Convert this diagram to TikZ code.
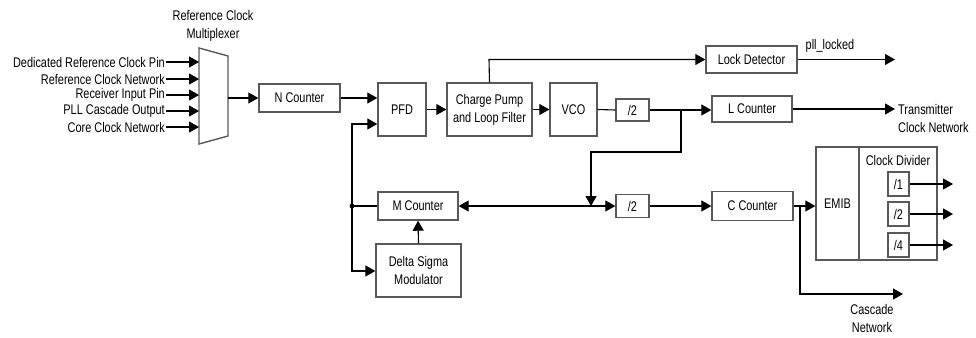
\documentclass[tikz,border=0pt]{standalone}
\usepackage{fontspec}
\setmainfont[FakeStretch=0.78]{Liberation Sans}
\usetikzlibrary{arrows.meta,calc}
\begin{document}
\begin{tikzpicture}[x=1pt,y=-1pt,
  font=\fontsize{14}{18}\selectfont,
  box/.style={draw=black!65, line width=1.4pt, fill=white, align=center, inner sep=0pt},
  conn/.style={line width=1.1pt},
  arr/.style={conn, -{Triangle[length=10pt,width=11pt]}},
  lbl/.style={inner sep=1pt, align=center},
]
\useasboundingbox (0,0) rectangle (976,337);

% multiplexer
\draw[draw=black!65, line width=1.4pt] (199,48) -- (228,56) -- (228,136) -- (199,144) -- cycle;
\node[lbl] (muxlbl) at (213,26) {Reference Clock\\Multiplexer};
\coordinate (mi1) at (199,62);
\coordinate (mi2) at (199,79);
\coordinate (mi3) at (199,95);
\coordinate (mi4) at (199,111);
\coordinate (mi5) at (199,127);
\coordinate (mo) at (228,98);
\node[lbl, anchor=east] (in1) at (166,62) {Dedicated Reference Clock Pin};
\node[lbl, anchor=east] (in2) at (166,79) {Reference Clock Network};
\node[lbl, anchor=east] (in3) at (166,95) {Receiver Input Pin};
\node[lbl, anchor=east] (in4) at (166,111) {PLL Cascade Output};
\node[lbl, anchor=east] (in5) at (166,127) {Core Clock Network};
\foreach \i in {1,...,5} \draw[arr] (in\i.east) -- (mi\i);

% boxes
\node[box, minimum width=81, minimum height=28] (nc) at (299.5,98) {N Counter};
\node[box, minimum width=48, minimum height=53] (pfd) at (402,109.5) {PFD};
\node[box, minimum width=85, minimum height=53] (cp) at (489.5,109.5) {Charge Pump\\and Loop Filter};
\node[box, minimum width=47, minimum height=53] (vco) at (573.5,109.5) {VCO};
\node[box, minimum width=33, minimum height=22] (dv1) at (632.5,110) {/2};
\node[box, minimum width=91, minimum height=27] (ld) at (751.5,59.5) {Lock Detector};
\node[box, minimum width=80, minimum height=26] (lc) at (752,109) {L Counter};
\node[box, minimum width=80, minimum height=28] (mc) at (418,206) {M Counter};
\node[box, minimum width=85, minimum height=53] (ds) at (418.5,270.5) {Delta Sigma\\Modulator};
\node[box, minimum width=33, minimum height=23] (dv2) at (632.5,206) {/2};
\node[box, minimum width=81, minimum height=29] (cc) at (752.5,206) {C Counter};
\node[box, minimum width=43, minimum height=113] (emib) at (837.5,203.5) {EMIB};
\node[box, minimum width=78, minimum height=113] (cd) at (898,203.5) {};
\node[lbl] (cdl) at (898,160) {Clock Divider};
\node[box, minimum width=21, minimum height=24] (d1) at (898.5,184) {/1};
\node[box, minimum width=21, minimum height=24] (d2) at (898.5,214) {/2};
\node[box, minimum width=21, minimum height=24] (d4) at (898.5,245) {/4};

% connections
\draw[arr] (mo) -- (nc.west);
\draw[arr] (nc.east) -- (pfd.west |- nc.east);
\draw[arr] (pfd.east) -- (cp.west);
\draw[arr] (cp.east) -- (vco.west);
\draw[conn] (vco.east) -- (dv1.west);
\coordinate (tap) at (681,110);
\draw[arr] (dv1.east) -- (tap) -- (lc.west |- tap);
\coordinate (mcl) at (591,206);
\draw[arr] (tap) -- (681,152) -- (591,152) -- (mcl);
\draw[conn, {Triangle[length=10pt,width=11pt]}-{Triangle[length=10pt,width=11pt]}] (mc.east) -- (dv2.west);
\draw[arr] (dv2.east) -- (cc.west);
\coordinate (cbr) at (800,206);
\draw[arr] (cc.east) -- (emib.west |- cc.east);
\coordinate (cas) at (903,294);
\draw[arr] (cbr) -- (800,294) -- (cas);
\node[lbl] (casl) at (872,318) {Cascade\\Network};

% lock detector
\coordinate (ldin) at (489,59.5);
\draw[arr] (cp.north) -- (ldin) -- (ld.west);
\coordinate (pllo) at (895,59.5);
\draw[arr] (ld.east) -- (pllo);
\node[lbl] (plll) at (830,46) {pll\_locked};

% L counter out
\coordinate (lco) at (895,109);
\draw[arr] (lc.east) -- (lco);
\node[lbl, anchor=west, align=left] (txl) at (897,118.5) {Transmitter\\Clock Network};

% feedback
\coordinate (dot) at (352,206);
\fill (dot) circle (2.4);
\draw[conn] (mc.west) -- (dot);
\draw[arr] (dot) -- (352,124) -- (pfd.west |- 0,124);
\draw[arr] (dot) -- (352,271) -- (ds.west |- 0,271);
\draw[arr] (ds.north) -- (mc.south);

% clock divider outputs
\coordinate (o1) at (953,184);
\coordinate (o2) at (953,214);
\coordinate (o4) at (953,245);
\draw[arr] (d1.east) -- (o1);
\draw[arr] (d2.east) -- (o2);
\draw[arr] (d4.east) -- (o4);
\end{tikzpicture}
\end{document}
